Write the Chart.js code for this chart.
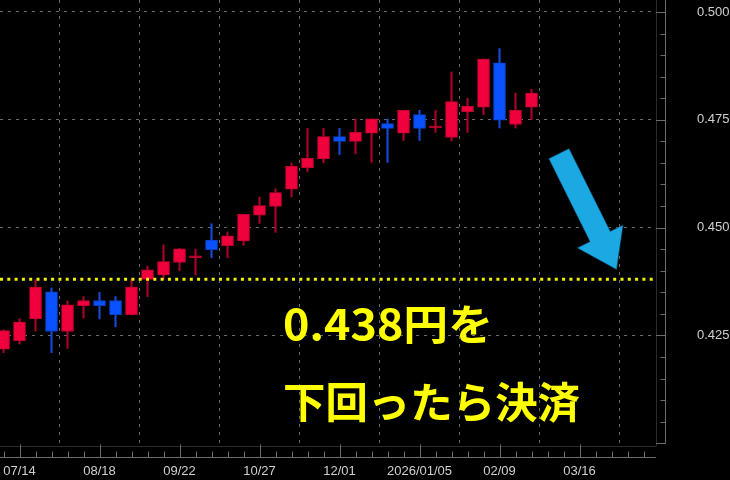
<!DOCTYPE html>
<html>
<head>
<meta charset="utf-8">
<script src="https://cdn.jsdelivr.net/npm/chart.js@4.4.1/dist/chart.umd.min.js"></script>
<style>
  html, body { margin: 0; padding: 0; background: #000; }
</style>
</head>
<body>
<canvas id="chart" width="730" height="480"></canvas>
<script>
// Weekly candles, 2025/07/07 .. 2026/02/23
const dates = ['07/07', '07/14', '07/21', '07/28', '08/04', '08/11', '08/18', '08/25',
  '09/01', '09/08', '09/15', '09/22', '09/29', '10/06', '10/13', '10/20', '10/27',
  '11/03', '11/10', '11/17', '11/24', '12/01', '12/08', '12/15', '12/22', '12/29',
  '2026/01/05', '01/12', '01/19', '01/26', '02/02', '02/09', '02/16', '02/23'];

const opens = [0.4218, 0.4238, 0.4288, 0.4351, 0.4259, 0.4319, 0.4331, 0.4331,
  0.4298, 0.4380, 0.4390, 0.4419, 0.4430, 0.4471, 0.4458, 0.4469, 0.4529,
  0.4549, 0.4589, 0.4639, 0.4660, 0.4711, 0.4700, 0.4719, 0.4741, 0.4719,
  0.4762, 0.4731, 0.4709, 0.4769, 0.4779, 0.4882, 0.4739, 0.4779];
const highs = [0.4263, 0.4289, 0.4379, 0.4360, 0.4330, 0.4340, 0.4350, 0.4340,
  0.4379, 0.4411, 0.4460, 0.4452, 0.4450, 0.4509, 0.4490, 0.4531, 0.4571,
  0.4590, 0.4650, 0.4730, 0.4730, 0.4730, 0.4752, 0.4752, 0.4752, 0.4772,
  0.4772, 0.4772, 0.4861, 0.4800, 0.4891, 0.4915, 0.4812, 0.4821];
const lows = [0.4210, 0.4230, 0.4260, 0.4210, 0.4220, 0.4290, 0.4288, 0.4270,
  0.4297, 0.4340, 0.4380, 0.4400, 0.4390, 0.4430, 0.4430, 0.4459, 0.4510,
  0.4489, 0.4571, 0.4630, 0.4650, 0.4669, 0.4671, 0.4651, 0.4651, 0.4702,
  0.4702, 0.4721, 0.4701, 0.4721, 0.4762, 0.4731, 0.4731, 0.4750];
const closes = [0.4261, 0.4281, 0.4362, 0.4259, 0.4321, 0.4331, 0.4319, 0.4298,
  0.4362, 0.4402, 0.4421, 0.4451, 0.4431, 0.4449, 0.4481, 0.4531, 0.4551,
  0.4581, 0.4642, 0.4661, 0.4711, 0.4700, 0.4721, 0.4752, 0.4730, 0.4772,
  0.4730, 0.4732, 0.4792, 0.4782, 0.4891, 0.4749, 0.4772, 0.4812];

// Axis labels (x given as week index, 07/07 = 0)
const xTickWeeks = [1, 6, 11, 16, 21, 26, 31, 36];
const xTickLabels = ['07/14', '08/18', '09/22', '10/27', '12/01', '2026/01/05', '02/09', '03/16'];
const yTicks = [0.425, 0.450, 0.475, 0.500];

// Exit level and notes
const exitLevel = 0.438;
const noteLines = ['0.438円を', '下回ったら決済'];
const arrowFrom = { x: 34.72, y: 0.4671 };
const arrowTo = { x: 38.30, y: 0.4404 };

const X_MIN = -0.22, X_MAX = 40.78;
const Y_MIN = 0.39935, Y_MAX = 0.50278;

const UP = '#f0003c', UP_EDGE = '#c0002e', UP_WICK = '#a8002c';
const DOWN = '#0a52ff', DOWN_EDGE = '#0840c8', DOWN_WICK = '#1848d0';
const AXIS_FONT = '"Liberation Sans", Arial, sans-serif';

function isUp(i) {
  return closes[i] >= opens[i];
}

// Black background
const bgPlugin = {
  id: 'bg',
  beforeDraw(chart) {
    const ctx = chart.ctx;
    ctx.save();
    ctx.fillStyle = '#000';
    ctx.fillRect(0, 0, chart.width, chart.height);
    ctx.restore();
  }
};

// Axis lines and small tick marks like the trading platform
const axisPlugin = {
  id: 'axisMarks',
  afterDraw(chart) {
    const ctx = chart.ctx;
    const area = chart.chartArea;
    const xs = chart.scales.x;
    const ys = chart.scales.y;
    ctx.save();

    // plot frame
    ctx.strokeStyle = '#2c2c2c';
    ctx.lineWidth = 1;
    ctx.beginPath();
    ctx.moveTo(Math.round(area.right) + 0.5, 0);
    ctx.lineTo(Math.round(area.right) + 0.5, area.bottom);
    ctx.moveTo(0, Math.round(area.bottom) + 0.5);
    ctx.lineTo(area.right, Math.round(area.bottom) + 0.5);
    ctx.stroke();

    // right price axis
    const ax = Math.round(area.right) + 9.5;
    ctx.strokeStyle = '#6c6c6c';
    ctx.beginPath();
    ctx.moveTo(ax, 0);
    ctx.lineTo(ax, area.bottom - 2);
    for (let v = 0.400; v <= 0.5026; v += 0.005) {
      const py = Math.round(ys.getPixelForValue(v)) + 0.5;
      if (py > area.bottom - 1) continue;
      const major = Math.abs(Math.round(v * 1000) % 25) === 0;
      ctx.moveTo(major ? area.right : ax - 5, py);
      ctx.lineTo(ax, py);
    }
    ctx.stroke();

    // bottom time axis
    const by = Math.round(area.bottom) + 11.5;
    ctx.beginPath();
    ctx.moveTo(0, by);
    ctx.lineTo(area.right, by);
    for (let w = 0; w <= 40; w++) {
      const px = Math.round(xs.getPixelForValue(w)) + 0.5;
      const major = xTickWeeks.includes(w);
      ctx.moveTo(px, by);
      ctx.lineTo(px, major ? by - 13 : by - 6);
    }
    ctx.stroke();
    ctx.restore();
  }
};

// Yellow notes and the blue arrow
const notePlugin = {
  id: 'notes',
  afterDatasetsDraw(chart) {
    const ctx = chart.ctx;
    const xs = chart.scales.x;
    const ys = chart.scales.y;
    ctx.save();

    // arrow
    const x1 = xs.getPixelForValue(arrowFrom.x), y1 = ys.getPixelForValue(arrowFrom.y);
    const x2 = xs.getPixelForValue(arrowTo.x), y2 = ys.getPixelForValue(arrowTo.y);
    const len = Math.hypot(x2 - x1, y2 - y1);
    ctx.translate(x1, y1);
    ctx.rotate(Math.atan2(y2 - y1, x2 - x1));
    const sw = 11, hw = 25, hl = 36;
    ctx.beginPath();
    ctx.moveTo(0, -sw);
    ctx.lineTo(len - hl, -sw);
    ctx.lineTo(len - hl, -hw);
    ctx.lineTo(len, 0);
    ctx.lineTo(len - hl, hw);
    ctx.lineTo(len - hl, sw);
    ctx.lineTo(0, sw);
    ctx.closePath();
    ctx.fillStyle = '#1ca8e2';
    ctx.strokeStyle = '#0b3a55';
    ctx.lineWidth = 1.5;
    ctx.stroke();
    ctx.fill();
    ctx.setTransform(1, 0, 0, 1, 0, 0);

    // text
    ctx.fillStyle = '#ffff00';
    ctx.font = 'bold 42px "Noto Sans CJK JP", sans-serif';
    ctx.textBaseline = 'alphabetic';
    drawFitted(ctx, noteLines[0], 283, 340, 210);
    drawFitted(ctx, noteLines[1], 283, 418, 297);
    ctx.restore();
  }
};

function drawFitted(ctx, text, x, y, width) {
  const w = ctx.measureText(text).width;
  ctx.save();
  ctx.translate(x, y);
  ctx.scale(width / w, 1);
  ctx.fillText(text, 0, 0);
  ctx.restore();
}

const wickData = dates.map((d, i) => ({ x: i, y: [lows[i], highs[i]] }));
const bodyData = dates.map((d, i) => ({ x: i, y: [opens[i], closes[i]] }));

new Chart(document.getElementById('chart'), {
  type: 'bar',
  data: {
    datasets: [
      {
        type: 'line',
        data: [{ x: X_MIN, y: exitLevel }, { x: X_MAX, y: exitLevel }],
        borderColor: '#f2f200',
        borderWidth: 3,
        borderDash: [3, 4.3],
        pointRadius: 0,
        order: -1
      },
      {
        data: bodyData,
        backgroundColor: dates.map((d, i) => isUp(i) ? UP : DOWN),
        borderColor: dates.map((d, i) => isUp(i) ? UP_EDGE : DOWN_EDGE),
        borderWidth: 1,
        borderSkipped: false,
        barThickness: 12,
        minBarLength: 2,
        grouped: false,
        order: 0
      },
      {
        data: wickData,
        backgroundColor: dates.map((d, i) => isUp(i) ? UP_WICK : DOWN_WICK),
        borderWidth: 0,
        barThickness: 1.5,
        grouped: false,
        order: 1
      }
    ]
  },
  options: {
    responsive: false,
    animation: false,
    layout: { padding: 0, autoPadding: false },
    plugins: {
      legend: { display: false },
      tooltip: { enabled: false }
    },
    scales: {
      x: {
        type: 'linear',
        min: X_MIN,
        max: X_MAX,
        offset: false,
        afterBuildTicks: (scale) => {
          scale.ticks = xTickWeeks.map(v => ({ value: v }));
        },
        afterFit: (scale) => {
          scale.height = 34;
          scale.paddingLeft = 0;
          scale.paddingRight = 0;
        },
        grid: { color: '#6a6a6a', lineWidth: 1, drawTicks: false },
        border: { display: false, dash: [3, 5] },
        ticks: {
          padding: 18,
          color: '#cfcfcf',
          font: { family: AXIS_FONT, size: 13 },
          maxRotation: 0,
          autoSkip: false,
          callback: (value) => xTickLabels[xTickWeeks.indexOf(value)]
        }
      },
      y: {
        position: 'right',
        min: Y_MIN,
        max: Y_MAX,
        afterBuildTicks: (scale) => {
          scale.ticks = yTicks.map(v => ({ value: v }));
        },
        afterFit: (scale) => {
          scale.width = 74;
          scale.paddingTop = 0;
          scale.paddingBottom = 0;
        },
        grid: { color: '#6a6a6a', lineWidth: 1, drawTicks: false },
        border: { display: false, dash: [3, 5] },
        ticks: {
          padding: 41,
          color: '#cfcfcf',
          font: { family: AXIS_FONT, size: 13 },
          callback: (value) => value.toFixed(3)
        }
      }
    }
  },
  plugins: [bgPlugin, axisPlugin, notePlugin]
});
</script>
</body>
</html>
